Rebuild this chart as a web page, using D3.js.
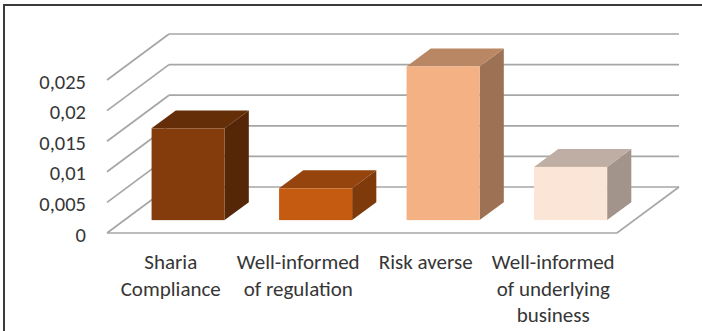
<!DOCTYPE html>
<html>
<head>
<meta charset="utf-8">
<script src="https://cdn.jsdelivr.net/npm/d3@7"></script>
<style>
  html, body { margin: 0; padding: 0; background: #fff; overflow: hidden; }
  svg { display: block; }
  text { font-family: Carlito, Calibri, Lato, "Open Sans", sans-serif; fill: #363636; }
</style>
</head>
<body>
<svg id="chart" width="702" height="331"></svg>
<script>
// Category names, each split into the lines shown under the floor
const categories = ["Sharia Compliance", "Well-informed of regulation", "Risk averse", "Well-informed of underlying business"];
const labelLines = [
  ["Sharia", "Compliance"],
  ["Well-informed", "of regulation"],
  ["Risk averse"],
  ["Well-informed", "of underlying", "business"]
];
const values = [0.0150, 0.0052, 0.0251, 0.0087];
const yTicks = [0, 0.005, 0.01, 0.015, 0.02, 0.025];
const tickLabels = ["0", "0,005", "0,01", "0,015", "0,02", "0,025"];
const frontColors = ["#843C0C", "#C55A11", "#F4B183", "#FBE5D6"];

const svg = d3.select("#chart");

// Front plane of the floor / value axis
const x = d3.scaleBand().domain(categories).range([107, 617]).paddingInner(0).paddingOuter(0);
const y = d3.scaleLinear().domain([0, 0.025]).range([233, 80]);

// Oblique depth vector: full depth of the plot box
const DX = 62, DY = 46;
const project = (px, v, d) => [px + d * DX, y(v) - d * DY];

// Bar footprint inside the depth of the floor
const D0 = 0.28, D1 = 0.67;
const barFrac = 0.573;

const shade = (c, k) => {
  const r = d3.rgb(c);
  return d3.rgb(r.r * k, r.g * k, r.b * k).formatHex();
};

// Chart frame
svg.append("rect")
  .attr("x", 4).attr("y", 5).attr("width", 800).attr("height", 400)
  .attr("fill", "none").attr("stroke", "#3a3a3a").attr("stroke-width", 2);

const grid = svg.append("g")
  .attr("fill", "none").attr("stroke", "#a6a6a6").attr("stroke-width", 1.7);

const xLeft = x.range()[0], xRight = x.range()[1];

// Back wall gridlines
grid.selectAll("line.back").data(yTicks).join("line")
  .attr("class", "back")
  .attr("x1", d => project(xLeft, d, 1)[0]).attr("y1", d => project(xLeft, d, 1)[1])
  .attr("x2", d => project(xRight, d, 1)[0]).attr("y2", d => project(xRight, d, 1)[1]);

// Side wall gridlines (receding diagonals)
grid.selectAll("line.side").data(yTicks).join("line")
  .attr("class", "side")
  .attr("x1", d => project(xLeft, d, 0)[0]).attr("y1", d => project(xLeft, d, 0)[1])
  .attr("x2", d => project(xLeft, d, 1)[0]).attr("y2", d => project(xLeft, d, 1)[1]);

// Floor front and right edges
grid.append("path")
  .attr("d", d3.line()([project(xLeft, 0, 0), project(xRight, 0, 0), project(xRight, 0, 1)]));

// Value axis labels
svg.append("g").selectAll("text").data(yTicks).join("text")
  .attr("x", 86)
  .attr("y", d => y(d) + 1.5)
  .attr("text-anchor", "end")
  .attr("dominant-baseline", "central")
  .attr("font-size", 20.5)
  .text((d, i) => tickLabels[i]);

// Bars as oblique boxes
const bars = svg.append("g").selectAll("g").data(categories).join("g");
bars.each(function(cat, i) {
  const g = d3.select(this);
  const v = values[i];
  const cx = x(cat) + x.bandwidth() / 2;
  const w = x.bandwidth() * barFrac;
  const x0 = cx - w / 2, x1 = cx + w / 2;
  const poly = pts => pts.map(p => p.join(",")).join(" ");

  // right side face
  g.append("polygon")
    .attr("points", poly([project(x1, 0, D0), project(x1, v, D0), project(x1, v, D1), project(x1, 0, D1)]))
    .attr("fill", shade(frontColors[i], 0.645));
  // top face
  g.append("polygon")
    .attr("points", poly([project(x0, v, D0), project(x1, v, D0), project(x1, v, D1), project(x0, v, D1)]))
    .attr("fill", shade(frontColors[i], 0.76));
  // front face
  const a = project(x0, v, D0), b = project(x1, 0, D0);
  g.append("rect")
    .attr("x", a[0]).attr("y", a[1])
    .attr("width", b[0] - a[0]).attr("height", b[1] - a[1])
    .attr("fill", frontColors[i]);
});

// Category labels under the floor
const labels = svg.append("g").selectAll("text").data(categories).join("text")
  .attr("text-anchor", "middle")
  .attr("font-size", 21);
labels.each(function(cat, i) {
  const cx = x(cat) + x.bandwidth() / 2;
  d3.select(this).selectAll("tspan").data(labelLines[i]).join("tspan")
    .attr("x", cx)
    .attr("y", (d, j) => 269 + j * 26.5)
    .text(d => d);
});
</script>
</body>
</html>
